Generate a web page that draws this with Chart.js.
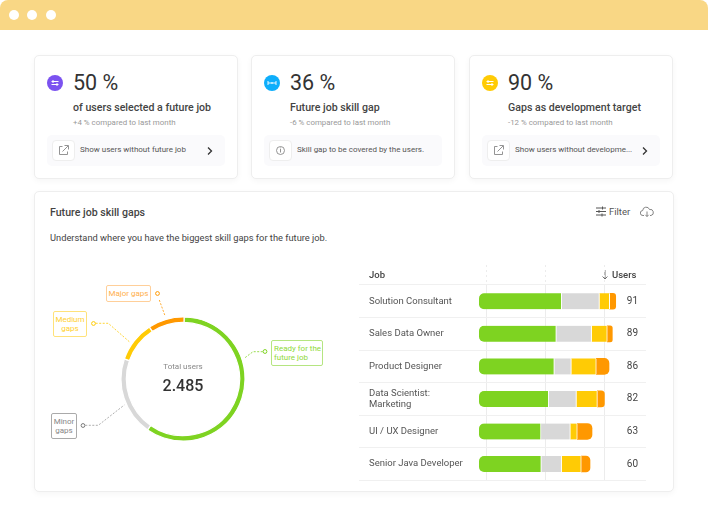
<!DOCTYPE html>
<html>
<head>
<meta charset="utf-8">
<title>Future job skill gaps</title>
<script src="https://cdn.jsdelivr.net/npm/chart.js@4/dist/chart.umd.min.js"></script>
<style>
    * { box-sizing: border-box; }
    html, body { margin: 0; padding: 0; background: #fff; }
    body { width: 708px; height: 516px; position: relative; overflow: hidden; font-family: Roboto, sans-serif; color: #333; }
    .abs { position: absolute; white-space: nowrap; }
    .topbar { left: 0; top: 0; width: 708px; height: 30px; background: #f9d785; border-radius: 8px 8px 0 0; }
    .dot { position: absolute; top: 10px; width: 10px; height: 10px; border-radius: 50%; background: #fff; }
    .card { background: #fff; border: 1px solid #eeeeee; border-radius: 5px; box-shadow: 0 2px 6px rgba(0, 0, 0, 0.04); }
    .kpi { top: 55px; width: 204px; height: 124px; }
    .kpi-icon { position: absolute; left: 12px; top: 19px; width: 16px; height: 16px; border-radius: 50%; }
    .kpi-value { position: absolute; left: 38px; top: 13px; font-size: 21.5px; line-height: 28px; }
    .kpi-title { position: absolute; left: 38px; top: 45px; font-size: 10.6px; line-height: 14px; font-weight: 500; color: #444; white-space: nowrap; }
    .kpi-note { position: absolute; left: 38px; top: 61px; font-size: 7.9px; line-height: 12px; color: #999; white-space: nowrap; }
    .strip { position: absolute; left: 12px; top: 79px; width: 178px; height: 31px; background: #fafafc; border-radius: 5px; }
    .strip-icon { position: absolute; left: 5px; top: 5px; width: 23px; height: 21px; background: #fff; border: 1px solid #eee; border-radius: 4px; }
    .strip-text { position: absolute; left: 33px; top: 9px; font-size: 8px; line-height: 12px; color: #555; white-space: nowrap; }
    .strip-arrow { position: absolute; left: 159px; top: 11px; }
    .strip-arrow svg, .strip-icon svg { display: block; }
    .callout { border: 1px solid; border-radius: 2px; font-size: 8px; line-height: 9px; display: flex; align-items: center; justify-content: center; text-align: center; background: #fff; }
    #gapsChart, #jobsChart { position: absolute; }
</style>
</head>
<body>
<div class="abs topbar">
    <div class="dot" style="left: 9px;"></div>
    <div class="dot" style="left: 27px;"></div>
    <div class="dot" style="left: 46px;"></div>
</div>

<div id="kpis"></div>

<div class="abs card" style="left: 34px; top: 191px; width: 640px; height: 301px;"></div>
<div class="abs" style="left: 50px; top: 206px; font-size: 10.6px; line-height: 14px; font-weight: 500; color: #444;">Future job skill gaps</div>
<div class="abs" style="left: 50px; top: 231px; font-size: 9.3px; line-height: 14px; color: #444;">Understand where you have the biggest skill gaps for the future job.</div>
<svg class="abs" style="left: 595px; top: 206px;" width="12" height="11" viewBox="0 0 12 11" fill="none" stroke="#555" stroke-width="1">
    <path d="M1 2h10M1 5.5h10M1 9h10"/><path d="M7.5 0.5v3M4 4v3M7 7.5v3"/>
</svg>
<div class="abs" style="left: 609px; top: 205px; font-size: 9.5px; line-height: 13px; color: #555;">Filter</div>
<svg class="abs" style="left: 640px; top: 206px;" width="14" height="12" viewBox="0 0 14 12" fill="none" stroke="#777" stroke-width="0.9">
    <path d="M4 9.5H3a2.5 2.5 0 0 1-.3-5A3.5 3.5 0 0 1 9.5 3.5 3 3 0 0 1 11 9.5h-1"/><path d="M7 5.5v5M5.3 8.8L7 10.5l1.7-1.7"/>
</svg>

<canvas id="gapsChart" style="left: 118px; top: 314px; width: 130px; height: 130px;" width="130" height="130"></canvas>
<div class="abs" style="left: 143px; width: 80px; top: 361px; text-align: center; font-size: 8px; line-height: 12px; color: #888;">Total users</div>
<div class="abs" style="left: 143px; width: 80px; top: 375px; text-align: center; font-size: 16px; line-height: 21px; font-weight: 500; color: #333;" id="totalUsers"></div>

<svg class="abs" style="left: 0; top: 0;" width="708" height="516" fill="none" stroke-width="0.8" stroke-dasharray="2 1.5">
    <path d="M159.3 300L165 315.7" stroke="#ff9800"/>
    <path d="M95.7 323.3H108.3L129.3 341.7" stroke="#ffcb05"/>
    <path d="M262.7 351.7H253L245 357.7" stroke="#7ed321"/>
    <path d="M85.3 425.3H98.3L124.3 405" stroke="#999"/>
    <g stroke-dasharray="none" stroke-width="1">
        <circle cx="157.5" cy="293.5" r="1.9" stroke="#ff9800"/>
        <circle cx="93.5" cy="323.5" r="1.9" stroke="#ffcb05"/>
        <circle cx="265" cy="351.5" r="1.9" stroke="#7ed321"/>
        <circle cx="83" cy="425.5" r="1.9" stroke="#777"/>
    </g>
</svg>
<div class="abs callout" style="left: 106px; top: 285px; width: 45px; height: 17px; color: #ffb04d; border-color: #ffcf99;">Major gaps</div>
<div class="abs callout" style="left: 53px; top: 311px; width: 34px; height: 26px; color: #ffd02f; border-color: #ffe27a;">Medium<br>gaps</div>
<div class="abs callout" style="left: 271px; top: 340px; width: 52px; height: 26px; color: #8fd93a; border-color: #b5e581; justify-content: flex-start; text-align: left; padding-left: 2px;">Ready for the<br>future job</div>
<div class="abs callout" style="left: 51px; top: 413px; width: 26px; height: 26px; color: #888; border-color: #aaa;">Minor<br>gaps</div>

<div class="abs" style="left: 369px; top: 268px; font-size: 9.5px; line-height: 13px; font-weight: 500; color: #444;">Job</div>
<svg class="abs" style="left: 601px; top: 269px;" width="8" height="11" viewBox="0 0 8 11" fill="none" stroke="#555" stroke-width="0.8">
    <path d="M4 1v9M1.5 7.5L4 10l2.5-2.5"/>
</svg>
<div class="abs" style="left: 612px; top: 268px; font-size: 9.5px; line-height: 13px; font-weight: 500; color: #444;">Users</div>
<canvas id="jobsChart" style="left: 359px; top: 261px; width: 288px; height: 228px;" width="288" height="228"></canvas>

<script>
// KPI cards
const kpiLefts = [34, 251, 469];
const kpiColors = ['#7b52f0', '#0eaefb', '#ffcb05'];
const kpiValues = ['50 %', '36 %', '90 %'];
const kpiTitles = ['of users selected a future job', 'Future job skill gap', 'Gaps as development target'];
const kpiNotes = ['+4 % compared to last month', '-6 % compared to last month', '-12 % compared to last month'];
const kpiActions = ['Show users without future job', 'Skill gap to be covered by the users.', 'Show users without developme...'];

// Donut, share of all users in percent
const gapLabels = ['Ready for the future job', 'Minor gaps', 'Medium gaps', 'Major gaps'];
const gapValues = [59.4, 20.6, 10.6, 9.4];
const gapColors = ['#7ed321', '#d8d8d8', '#ffcb05', '#ff9800'];
const totalUsers = '2.485';

// Job table
const jobs = ['Solution Consultant', 'Sales Data Owner', 'Product Designer', ['Data Scientist:', 'Marketing'], 'UI / UX Designer', 'Senior Java Developer'];
const users = [91, 89, 86, 82, 63, 60];
const readyValues = [82.7, 77.3, 75.3, 69.7, 62, 62.3];
const minorValues = [37.7, 35.3, 17, 27.7, 29.3, 20.3];
const mediumValues = [10.3, 15.7, 25, 21, 7, 19.7];
const majorValues = [6, 5, 12.7, 7, 14.7, 8.7];
const axisTicks = [7.3, 66.3, 125.3];

const linkIcon = '<svg width="21" height="19" viewBox="0 0 21 19" fill="none" stroke="#888" stroke-width="0.9"><path d="M9.5 5.5H6.5v8h8v-3"/><path d="M9.5 10.5l5.5-5.5M11.5 4.5H15.5V8.5"/></svg>';
const infoIcon = '<svg width="21" height="19" viewBox="0 0 21 19" fill="none" stroke="#888" stroke-width="0.9"><circle cx="10.5" cy="9.5" r="4"/><path d="M10.5 8v3.5M10.5 6.5v.8"/></svg>';
const chevron = '<svg width="8" height="10" viewBox="0 0 8 10" fill="none" stroke="#333" stroke-width="1.3"><path d="M2 1.5L5.5 5 2 8.5"/></svg>';
const kpiGlyphs = [
    '<path d="M4.5 6.5h7M4.5 9.5h7M6 5v3M10 8v3" stroke="#fff" stroke-width="1" fill="none"/>',
    '<path d="M4 8h8M4 6v4M12 6v4M8 7v2" stroke="#fff" stroke-width="0.9" fill="none"/>',
    '<path d="M4.5 6.5h7M4.5 9.5h7M6 5v3M10 8v3" stroke="#fff" stroke-width="1" fill="none"/>'
];

const kpis = document.getElementById('kpis');
kpiValues.forEach((value, i) => {
    const card = document.createElement('div');
    card.className = 'abs card kpi';
    card.style.left = kpiLefts[i] + 'px';
    card.innerHTML = `
        <svg class="kpi-icon" viewBox="0 0 16 16" style="background: ${kpiColors[i]}">${kpiGlyphs[i]}</svg>
        <div class="kpi-value">${value}</div>
        <div class="kpi-title">${kpiTitles[i]}</div>
        <div class="kpi-note">${kpiNotes[i]}</div>
        <div class="strip">
            <div class="strip-icon">${i === 1 ? infoIcon : linkIcon}</div>
            <div class="strip-text">${kpiActions[i]}</div>
            ${i === 1 ? '' : `<div class="strip-arrow">${chevron}</div>`}
        </div>`;
    kpis.appendChild(card);
});
document.getElementById('totalUsers').textContent = totalUsers;

new Chart(document.getElementById('gapsChart'), {
    type: 'doughnut',
    data: {
        labels: gapLabels,
        datasets: [{ data: gapValues, backgroundColor: gapColors, borderColor: '#fff', borderWidth: 1.2 }]
    },
    options: {
        responsive: false,
        animation: false,
        radius: 62,
        cutout: 58.8,
        rotation: 1,
        plugins: { legend: { display: false }, tooltip: { enabled: false } }
    }
});

// User counts at the right end of each row
const usersColumn = {
    id: 'usersColumn',
    afterDatasetsDraw(chart) {
        const { ctx, scales: { y } } = chart;
        ctx.save();
        ctx.font = '10px Roboto';
        ctx.fillStyle = '#444';
        ctx.textAlign = 'right';
        ctx.textBaseline = 'middle';
        users.forEach((count, i) => ctx.fillText(count, 279, y.getPixelForTick(i)));
        ctx.restore();
    }
};

function jobSet(label, values, color, last) {
    return {
        label: label,
        data: values,
        backgroundColor: color,
        borderColor: '#fff',
        borderWidth: last ? 0 : { right: 1 },
        borderSkipped: false,
        barThickness: 16,
        borderRadius: color === gapColors[0]
            ? { topLeft: 5, bottomLeft: 5 }
            : last ? { topRight: 5, bottomRight: 5 } : 0
    };
}

new Chart(document.getElementById('jobsChart'), {
    type: 'bar',
    data: {
        labels: jobs,
        datasets: [
            jobSet(gapLabels[0], readyValues, gapColors[0]),
            jobSet(gapLabels[1], minorValues, gapColors[1]),
            jobSet(gapLabels[2], mediumValues, gapColors[2]),
            jobSet(gapLabels[3], majorValues, gapColors[3], true)
        ]
    },
    options: {
        responsive: false,
        animation: false,
        indexAxis: 'y',
        layout: { padding: { left: 10, right: 1, top: 4, bottom: 2 } },
        scales: {
            x: {
                position: 'top',
                stacked: true,
                min: 0,
                max: 167,
                afterBuildTicks: axis => { axis.ticks = axisTicks.map(value => ({ value })); },
                afterFit: axis => { axis.height = 20; },
                border: { display: false },
                ticks: { display: false },
                grid: { color: '#ececec', borderDash: [2, 3], tickBorderDash: [2, 3], tickLength: 20, tickColor: '#ececec' }
            },
            y: {
                stacked: true,
                afterFit: axis => { axis.width = 110; },
                border: { display: false },
                ticks: {
                    crossAlign: 'far',
                    autoSkip: false,
                    color: '#555',
                    font: { family: 'Roboto', size: 9.5, lineHeight: 1.2 }
                },
                grid: { color: '#f0f0f0', tickLength: 120, tickColor: '#f0f0f0', z: -1 }
            }
        },
        plugins: { legend: { display: false }, tooltip: { enabled: false } }
    },
    plugins: [usersColumn]
});
</script>
</body>
</html>
